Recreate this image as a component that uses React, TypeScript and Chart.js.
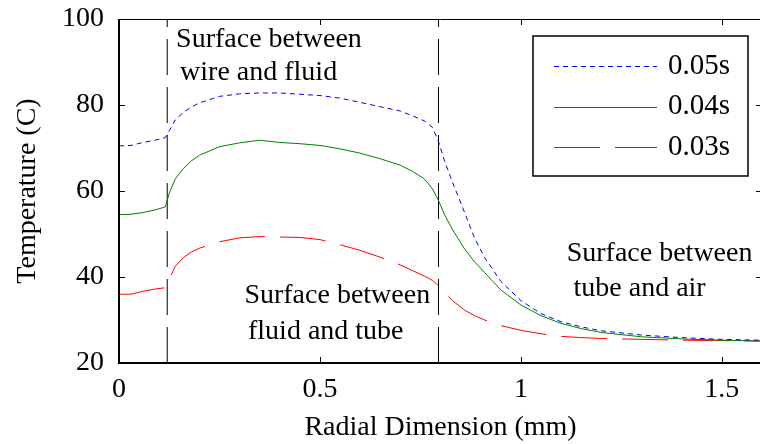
import React, { useEffect, useRef } from "react";
import { Chart, registerables } from "chart.js";

Chart.register(...registerables);

// ---- data ----
const radius = [0, 0.03, 0.06, 0.09, 0.115, 0.125, 0.14, 0.16, 0.18, 0.2, 0.25, 0.3, 0.35, 0.4, 0.45, 0.5, 0.55, 0.6, 0.65, 0.7, 0.73, 0.76, 0.78, 0.795, 0.81, 0.83, 0.86, 0.885, 0.91, 0.95, 1.0, 1.05, 1.1, 1.15, 1.2, 1.3, 1.4, 1.5, 1.6];
const temp005 = [70.5, 70.6, 71.3, 71.8, 72.4, 74.0, 76.5, 78.3, 79.5, 80.5, 82.0, 82.6, 82.8, 82.8, 82.5, 82.2, 81.6, 80.6, 79.6, 78.6, 77.5, 76.3, 74.8, 71.5, 67.0, 62.0, 55.0, 49.0, 44.5, 39.0, 34.5, 31.5, 29.6, 28.4, 27.5, 26.5, 25.9, 25.5, 25.3];
const temp004 = [54.5, 54.6, 55.0, 55.6, 56.3, 59.5, 62.8, 65.2, 67.0, 68.3, 70.3, 71.2, 71.8, 71.3, 71.0, 70.6, 69.8, 68.8, 67.5, 66.0, 64.6, 62.8, 60.5, 57.8, 54.5, 51.0, 46.5, 43.5, 41.0, 37.0, 33.5, 31.0, 29.2, 28.0, 27.1, 26.1, 25.6, 25.3, 25.1];
const temp003 = [36.0, 36.0, 36.7, 37.2, 37.5, 39.5, 42.5, 44.5, 45.8, 46.7, 48.2, 49.1, 49.4, 49.3, 49.2, 48.7, 47.5, 46.2, 44.6, 42.8, 41.5, 40.2, 39.2, 38.0, 36.5, 34.5, 32.3, 31.0, 30.0, 28.7, 27.6, 26.8, 26.2, 25.9, 25.7, 25.5, 25.3, 25.2, 25.1];
const seriesLabels = ["0.05s", "0.04s", "0.03s"];
const boundaries = [0.12, 0.795];
const xTicks = [0, 0.5, 1, 1.5];
const yTicks = [20, 40, 60, 80, 100];
const notes = [
  ["Surface between", "wire and fluid"],
  ["Surface between", "fluid and tube"],
  ["Surface between", "tube and air"],
];

const FONT = "'Liberation Serif', 'Times New Roman', serif";

const pts = (ys: number[]) => radius.map((x, i) => ({ x, y: ys[i] }));

const framePlugin = {
  id: "frame",
  afterDraw(chart: any) {
    const { ctx, chartArea: a, scales } = chart;
    const xs = scales.x, ys = scales.y;
    ctx.save();
    ctx.strokeStyle = "#000";
    // box
    ctx.lineWidth = 1;
    ctx.beginPath();
    ctx.moveTo(a.left, a.top + 0.5);
    ctx.lineTo(a.right, a.top + 0.5);
    ctx.moveTo(a.right - 0.5, a.top);
    ctx.lineTo(a.right - 0.5, a.bottom);
    ctx.stroke();
    ctx.lineWidth = 2;
    ctx.beginPath();
    ctx.moveTo(a.left, a.top);
    ctx.lineTo(a.left, a.bottom);
    ctx.lineTo(a.right, a.bottom);
    ctx.stroke();
    // inward ticks
    ctx.lineWidth = 1;
    ctx.beginPath();
    xTicks.forEach((v) => {
      const px = Math.round(xs.getPixelForValue(v)) + 0.5;
      ctx.moveTo(px, a.bottom);
      ctx.lineTo(px, a.bottom - 6);
      ctx.moveTo(px, a.top);
      ctx.lineTo(px, a.top + 6);
    });
    yTicks.forEach((v) => {
      const py = Math.round(ys.getPixelForValue(v)) + 0.5;
      ctx.moveTo(a.left, py);
      ctx.lineTo(a.left + 6, py);
      ctx.moveTo(a.right, py);
      ctx.lineTo(a.right - 6, py);
    });
    ctx.stroke();

    // annotations
    ctx.fillStyle = "#000";
    ctx.font = `28px ${FONT}`;
    ctx.textAlign = "left";
    ctx.textBaseline = "middle";
    const spots = [
      [0.142, 95.3, 0.152, 87.6],
      [0.312, 35.7, 0.321, 27.3],
      [1.114, 45.4, 1.131, 37.4],
    ];
    notes.forEach((lines, i) => {
      const s = spots[i];
      ctx.fillText(lines[0], xs.getPixelForValue(s[0]), ys.getPixelForValue(s[1]));
      ctx.fillText(lines[1], xs.getPixelForValue(s[2]), ys.getPixelForValue(s[3]));
    });

    // legend box
    const bx = 533, by = 36, bw = 215, bh = 140;
    ctx.fillStyle = "#fff";
    ctx.fillRect(bx, by, bw, bh);
    ctx.lineWidth = 1.5;
    ctx.strokeRect(bx, by, bw, bh);
    chart.data.datasets.slice(0, 3).forEach((ds: any, i: number) => {
      const yy = by + 30 + i * 40.5;
      ctx.save();
      ctx.strokeStyle = ds.borderColor;
      ctx.lineWidth = ds.borderWidth;
      ctx.setLineDash(ds.borderDash || []);
      ctx.beginPath();
      ctx.moveTo(bx + 21, Math.round(yy) + 0.5);
      ctx.lineTo(bx + 124, Math.round(yy) + 0.5);
      ctx.stroke();
      ctx.restore();
      ctx.fillStyle = "#000";
      ctx.font = `29px ${FONT}`;
      ctx.textBaseline = "middle";
      ctx.fillText(ds.label, bx + 135, yy);
    });
    ctx.restore();
  },
};

export default function App() {
  const ref = useRef<HTMLCanvasElement>(null);
  useEffect(() => {
    if (!ref.current) return;
    const line = (label: string, ys: number[], color: string, dash: number[]) => ({
      label,
      data: pts(ys),
      borderColor: color,
      borderWidth: 1,
      borderDash: dash,
      pointRadius: 0,
      fill: false,
      tension: 0,
    });
    const chart = new Chart(ref.current, {
      type: "line",
      data: {
        datasets: [
          line(seriesLabels[0], temp005, "#0000ff", [5, 4]),
          line(seriesLabels[1], temp004, "#008000", []),
          line(seriesLabels[2], temp003, "#ff0000", [46, 15]),
          ...boundaries.map((b) => ({
            label: "",
            data: [{ x: b, y: 20 }, { x: b, y: 100 }],
            borderColor: "#000",
            borderWidth: 1,
            borderDash: [36, 12],
            pointRadius: 0,
          })),
        ],
      },
      options: {
        responsive: false,
        animation: false,
        devicePixelRatio: 1,
        layout: { padding: { top: 19, right: 0, left: 0, bottom: 0 } },
        plugins: { legend: { display: false }, tooltip: { enabled: false } },
        scales: {
          x: {
            type: "linear",
            min: 0,
            max: 1.6,
            afterFit: (s: any) => { s.height = 81; s.paddingLeft = 0; s.paddingRight = 0; },
            afterBuildTicks: (s: any) => { s.ticks = xTicks.map((v) => ({ value: v })); },
            grid: { display: false, drawTicks: false },
            border: { display: false },
            ticks: {
              padding: 10,
              color: "#000",
              font: { family: FONT, size: 28 },
              callback: (v: any) => String(v),
              maxRotation: 0,
            },
            title: {
              display: true,
              text: "Radial Dimension (mm)",
              color: "#000",
              font: { family: FONT, size: 28 },
              padding: { top: 0, bottom: 0 },
            },
          },
          y: {
            type: "linear",
            min: 20,
            max: 100,
            afterFit: (s: any) => { s.width = 119; s.paddingTop = 0; s.paddingBottom = 0; },
            afterBuildTicks: (s: any) => { s.ticks = yTicks.map((v) => ({ value: v })); },
            grid: { display: false, drawTicks: false },
            border: { display: false },
            ticks: {
              padding: 15,
              color: "#000",
              font: { family: FONT, size: 28 },
            },
            title: {
              display: true,
              text: "Temperature (C)",
              color: "#000",
              font: { family: FONT, size: 28 },
              padding: { top: 11, bottom: 0 },
            },
          },
        },
      },
      plugins: [framePlugin],
    } as any);
    return () => chart.destroy();
  }, []);
  return (
    <div style={{ position: "fixed", left: 0, top: 0, width: 760, height: 444, overflow: "hidden", background: "#fff" }}>
      <canvas ref={ref} width={762} height={444} style={{ width: 762, height: 444, display: "block" }} />
    </div>
  );
}
